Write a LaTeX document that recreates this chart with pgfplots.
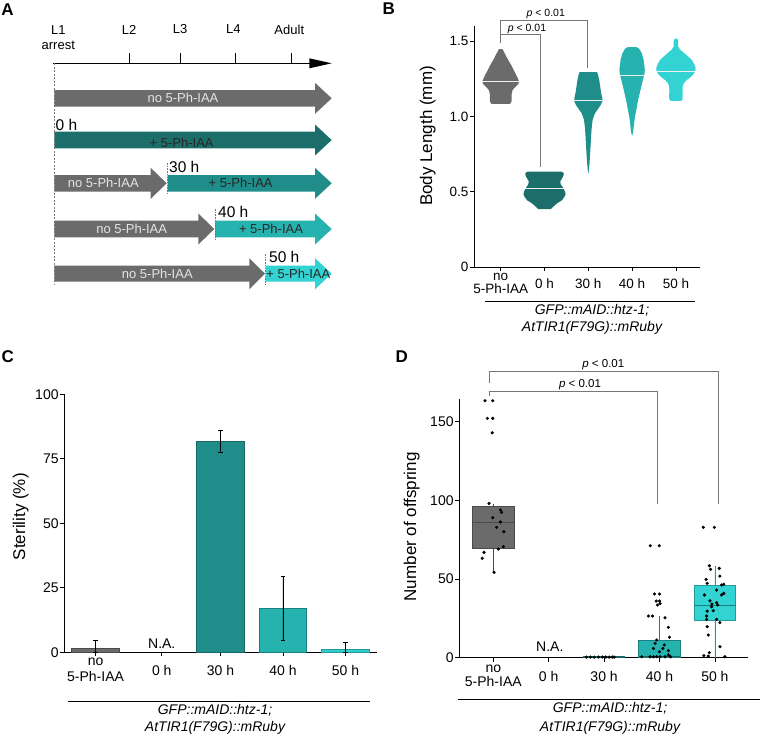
\documentclass[border=0pt]{standalone}
\usepackage{fontspec}
\setmainfont{Liberation Sans}
\usepackage{pgfplots}
\usepackage{pgfplotstable}
\pgfplotsset{compat=1.18}
\usepgfplotslibrary{statistics}

\definecolor{cgray}{HTML}{6B6B6B}
\definecolor{cgrayd}{HTML}{4A4A4A}
\definecolor{c0}{HTML}{1B6E6A}
\definecolor{c30}{HTML}{1F8E8A}
\definecolor{c30d}{HTML}{166663}
\definecolor{c40}{HTML}{26B3B0}
\definecolor{c40d}{HTML}{1B807D}
\definecolor{c50}{HTML}{33D3D3}
\definecolor{c50d}{HTML}{23999A}
\definecolor{brk}{HTML}{777777}

\newcommand{\fsz}[2]{\fontsize{#1pt}{#2pt}\selectfont}

% violin outlines: signed half width (category units), value
% right side top to bottom, then left side bottom to top
\pgfplotstableread{
s v
0.04 1.447
0.09 1.42
0.16 1.38
0.24 1.34
0.31 1.30
0.38 1.26
0.42 1.232
0.40 1.215
0.33 1.195
0.27 1.175
0.25 1.15
0.25 1.11
0.24 1.095
0.21 1.084
-0.21 1.084
-0.24 1.095
-0.25 1.11
-0.25 1.15
-0.27 1.175
-0.33 1.195
-0.40 1.215
-0.42 1.232
-0.38 1.26
-0.31 1.30
-0.24 1.34
-0.16 1.38
-0.09 1.42
-0.04 1.447
}\vno
\pgfplotstableread{
s v
0.38 0.634
0.43 0.628
0.44 0.615
0.41 0.595
0.36 0.57
0.37 0.55
0.43 0.525
0.47 0.50
0.48 0.486
0.46 0.47
0.40 0.445
0.29 0.425
0.19 0.40
0.14 0.385
-0.14 0.385
-0.19 0.40
-0.29 0.425
-0.40 0.445
-0.46 0.47
-0.48 0.486
-0.47 0.50
-0.43 0.525
-0.37 0.55
-0.36 0.57
-0.41 0.595
-0.44 0.615
-0.43 0.628
-0.38 0.634
}\vzero
\pgfplotstableread{
s v
0.20 1.294
0.22 1.28
0.25 1.24
0.27 1.20
0.29 1.16
0.32 1.12
0.32 1.10
0.28 1.075
0.22 1.05
0.15 1.02
0.10 0.98
0.075 0.92
0.06 0.85
0.045 0.77
0.03 0.70
0.005 0.624
-0.005 0.624
-0.03 0.70
-0.045 0.77
-0.06 0.85
-0.075 0.92
-0.10 0.98
-0.15 1.02
-0.22 1.05
-0.28 1.075
-0.32 1.10
-0.32 1.12
-0.29 1.16
-0.27 1.20
-0.25 1.24
-0.22 1.28
-0.20 1.294
}\vthirty
\pgfplotstableread{
s v
0.10 1.46
0.16 1.45
0.22 1.42
0.26 1.38
0.28 1.34
0.29 1.31
0.28 1.28
0.245 1.24
0.21 1.20
0.17 1.15
0.13 1.10
0.10 1.05
0.065 1.0
0.045 0.95
0.025 0.90
0.003 0.873
-0.003 0.873
-0.025 0.90
-0.045 0.95
-0.065 1.0
-0.10 1.05
-0.13 1.10
-0.17 1.15
-0.21 1.20
-0.245 1.24
-0.28 1.28
-0.29 1.31
-0.28 1.34
-0.26 1.38
-0.22 1.42
-0.16 1.45
-0.10 1.46
}\vforty
\pgfplotstableread{
s v
0.03 1.517
0.05 1.50
0.05 1.465
0.09 1.445
0.15 1.43
0.27 1.40
0.36 1.376
0.42 1.345
0.45 1.32
0.44 1.30
0.40 1.28
0.33 1.26
0.24 1.24
0.18 1.22
0.155 1.20
0.15 1.17
0.155 1.13
0.15 1.115
0.12 1.103
-0.12 1.103
-0.15 1.115
-0.155 1.13
-0.15 1.17
-0.155 1.20
-0.18 1.22
-0.24 1.24
-0.33 1.26
-0.40 1.28
-0.44 1.30
-0.45 1.32
-0.42 1.345
-0.36 1.376
-0.27 1.40
-0.15 1.43
-0.09 1.445
-0.05 1.465
-0.05 1.50
-0.03 1.517
}\vfifty

\pgfplotsset{
  panel/.style={
    scale only axis, axis lines=left,
    axis line style={-, line width=0.9pt, black},
    tick align=outside, major tick length=4pt,
    tick style={line width=0.8pt, black},
    clip=false,
    /pgf/number format/assume math mode=true,
    ticklabel style={font=\fsz{14}{16}},
    yticklabel style={inner sep=1.5pt},
    xticklabel style={align=center, anchor=center},
    ylabel style={font=\fsz{17}{20}, anchor=center},
  }
}

\begin{document}
\begin{tikzpicture}

% ---------- canvas in pixel units (panel A and annotations)
\begin{axis}[at={(0pt,-736pt)}, anchor=south west, scale only axis,
  width=760pt, height=736pt, xmin=0, xmax=760, ymin=0, ymax=736,
  y dir=reverse, hide axis, clip=false]
% panel letters
\node[font=\fsz{17}{20}\bfseries] at (7.5,9.2) {A};
\node[font=\fsz{17}{20}\bfseries] at (388.8,8.3) {B};
\node[font=\fsz{17}{20}\bfseries] at (7.8,357) {C};
\node[font=\fsz{17}{20}\bfseries] at (401.7,357) {D};
% timeline
\draw[line width=1.2pt] (53.3,63.3) -- (312,63.3);
\addplot[fill=black, draw=none] coordinates {(309.3,58.3)(331.7,63.3)(309.3,68.3)};
\draw[line width=1pt] (129,53.3) -- (129,63.3);
\draw[line width=1pt] (180,53.3) -- (180,63.3);
\draw[line width=1pt] (235,53.3) -- (235,63.3);
\draw[line width=1pt] (291.7,53.3) -- (291.7,63.3);
\node[font=\fsz{13}{15}] at (58.3,30) {L1};
\node[font=\fsz{13}{15}] at (58.3,45) {arrest};
\node[font=\fsz{13}{15}] at (129,30) {L2};
\node[font=\fsz{13}{15}] at (180,29.3) {L3};
\node[font=\fsz{13}{15}] at (233.3,29.3) {L4};
\node[font=\fsz{13}{15}] at (289.3,30) {Adult};
% arrows
\addplot[fill=cgray, draw=none] coordinates {(54.3,90)(315,90)(315,82.8)(331.7,98.3)(315,113.8)(315,106.6)(54.3,106.6)};
\addplot[fill=c0, draw=none] coordinates {(54.3,131.7)(315,131.7)(315,124.5)(331.7,140)(315,155.5)(315,148.3)(54.3,148.3)};
\addplot[fill=cgray, draw=none] coordinates {(54.3,175)(150.7,175)(150.7,167.8)(166.7,183.3)(150.7,198.8)(150.7,191.6)(54.3,191.6)};
\addplot[fill=c30, draw=none] coordinates {(167.7,175)(315,175)(315,167.8)(331.7,183.3)(315,198.8)(315,191.6)(167.7,191.6)};
\addplot[fill=cgray, draw=none] coordinates {(54.3,220.7)(198.3,220.7)(198.3,213.5)(214.3,229)(198.3,244.5)(198.3,237.3)(54.3,237.3)};
\addplot[fill=c40, draw=none] coordinates {(215,220.7)(315,220.7)(315,213.5)(331.7,229)(315,244.5)(315,237.3)(215,237.3)};
\addplot[fill=cgray, draw=none] coordinates {(54.3,265.7)(249.3,265.7)(249.3,258.2)(265,273.7)(249.3,289.2)(249.3,281.7)(54.3,281.7)};
\addplot[fill=c50, draw=none] coordinates {(265.7,265.7)(315,265.7)(315,258.2)(331.7,273.7)(315,289.2)(315,281.7)(265.7,281.7)};
\draw[brk, line width=0.7pt, dash pattern=on 2pt off 1.5pt] (54.3,63.3) -- (54.3,285);
\draw[brk, line width=0.7pt, dash pattern=on 1.5pt off 1.2pt] (167.7,163) -- (167.7,193);
\draw[brk, line width=0.7pt, dash pattern=on 1.5pt off 1.2pt] (215,209) -- (215,239);
\draw[brk, line width=0.7pt, dash pattern=on 1.5pt off 1.2pt] (265.7,254) -- (265.7,284);
\node[font=\fsz{13}{15}, text=white!90!black] at (183,98.3) {no 5-Ph-IAA};
\node[font=\fsz{15.5}{17}, anchor=west, inner sep=0pt] at (55.5,125) {0 h};
\node[font=\fsz{13}{15}, text=black!85] at (181.7,142.7) {+ 5-Ph-IAA};
\node[font=\fsz{15.5}{17}, anchor=west, inner sep=0pt] at (169,166.7) {30 h};
\node[font=\fsz{13}{15}, text=white!90!black] at (103.3,183.3) {no 5-Ph-IAA};
\node[font=\fsz{13}{15}, text=black!85] at (240.7,183.3) {+ 5-Ph-IAA};
\node[font=\fsz{15.5}{17}, anchor=west, inner sep=0pt] at (218,212.3) {40 h};
\node[font=\fsz{13}{15}, text=white!90!black] at (131.7,229.3) {no 5-Ph-IAA};
\node[font=\fsz{13}{15}, text=black!85] at (271,229.3) {+ 5-Ph-IAA};
\node[font=\fsz{15.5}{17}, anchor=west, inner sep=0pt] at (269,256.7) {50 h};
\node[font=\fsz{13}{15}, text=white!90!black] at (157.3,274.3) {no 5-Ph-IAA};
\node[font=\fsz{13}{15}, text=black!85] at (298.3,274.3) {+ 5-Ph-IAA};
% strain labels
\draw[line width=0.8pt] (485,301.7) -- (695,301.7);
\node[font=\fsz{14}{16}\itshape] at (592,310.5) {GFP::mAID::htz-1;};
\node[font=\fsz{14}{16}\itshape] at (592,328.3) {AtTIR1(F79G)::mRuby};
\draw[line width=0.8pt] (68.3,701) -- (370,701);
\node[font=\fsz{14}{16}\itshape] at (215,710.7) {GFP::mAID::htz-1;};
\node[font=\fsz{14}{16}\itshape] at (215,728.3) {AtTIR1(F79G)::mRuby};
\draw[line width=0.8pt] (458,699) -- (760,699);
\node[font=\fsz{14}{16}\itshape] at (610,708.3) {GFP::mAID::htz-1;};
\node[font=\fsz{14}{16}\itshape] at (610,728.3) {AtTIR1(F79G)::mRuby};
% p-values
\node[font=\fsz{10.5}{12}] at (545.8,14) {\textit{p} < 0.01};
\node[font=\fsz{10.5}{12}] at (527,29.3) {\textit{p} < 0.01};
\node[font=\fsz{11.5}{13}] at (603.3,365) {\textit{p} < 0.01};
\node[font=\fsz{11.5}{13}] at (580,384.3) {\textit{p} < 0.01};
\end{axis}

% ---------- B: body length violins
\begin{axis}[panel, at={(474pt,-267.3pt)}, anchor=south west,
  width=226pt, height=241.3pt, xmin=-0.61, xmax=4.55, ymin=0, ymax=1.6,
  xtick={0,1,2,3,4}, xticklabels={{no\\5-Ph-IAA},0 h,30 h,40 h,50 h},
  ytick={0,0.5,1,1.5}, yticklabels={0,0.5,1.0,1.5},
  ticklabel style={font=\fsz{13.5}{13}},
  xticklabel style={yshift=-12pt},
  ylabel={Body Length (mm)},
  ylabel style={at={(axis description cs:-0.205,0.544)}}]
\addplot[fill=cgray, draw=none] table[x expr=\thisrow{s}, y=v] {\vno} -- cycle;
\addplot[fill=c0, draw=none] table[x expr=1+\thisrow{s}, y=v] {\vzero} -- cycle;
\addplot[fill=c30, draw=none] table[x expr=2+\thisrow{s}, y=v] {\vthirty} -- cycle;
\addplot[fill=c40, draw=none] table[x expr=3+\thisrow{s}, y=v] {\vforty} -- cycle;
\addplot[fill=c50, draw=none] table[x expr=4+\thisrow{s}, y=v] {\vfifty} -- cycle;
% medians
\addplot[white!88!gray, line width=0.8pt] coordinates {(-0.42,1.23)(0.42,1.23)};
\addplot[white!88!gray, line width=0.8pt] coordinates {(0.56,0.52)(1.44,0.52)};
\addplot[white!88!gray, line width=0.8pt] coordinates {(1.68,1.105)(2.32,1.105)};
\addplot[white!88!gray, line width=0.8pt] coordinates {(2.72,1.27)(3.28,1.27)};
\addplot[white!88!gray, line width=0.8pt] coordinates {(3.56,1.298)(4.44,1.298)};
% significance brackets
\addplot[brk, line width=0.8pt] coordinates {(0,1.486)(0,1.636)(1.97,1.636)(1.97,1.32)};
\addplot[brk, line width=0.8pt] coordinates {(0,1.543)(0.914,1.543)(0.914,0.667)};
\end{axis}

% ---------- C: sterility bars
\begin{axis}[panel, at={(64.3pt,-652.3pt)}, anchor=south west,
  width=312.4pt, height=258pt, xmin=-0.5, xmax=4.5, ymin=0, ymax=100,
  xtick={0,1.06,2,3,4}, xticklabels={{no\\5-Ph-IAA},0 h,30 h,40 h,50 h},
  ytick={0,25,50,75,100},
  xticklabel style={yshift=-13.7pt},
  ylabel={Sterility (\%)},
  ylabel style={at={(axis description cs:-0.1396,0.5256)}},
  error bars/error bar style={black, line width=0.8pt},
  error bars/error mark options={rotate=90, black, mark size=2.2pt, line width=0.8pt}]
\addplot[ybar, bar shift=0pt, bar width=0.763, fill=cgray, draw=cgrayd, line width=0.8pt,
  error bars/.cd, y dir=both, y explicit] coordinates {(0,1.6) += (0,2.9) -= (0,1.6)};
\addplot[ybar, bar shift=0pt, bar width=0.763, fill=c30, draw=c30d, line width=0.8pt,
  error bars/.cd, y dir=both, y explicit] coordinates {(2,81.7) += (0,4.2) -= (0,4.3)};
\addplot[ybar, bar shift=0pt, bar width=0.763, fill=c40, draw=c40d, line width=0.8pt,
  error bars/.cd, y dir=both, y explicit] coordinates {(3,17.1) += (0,12.2) -= (0,12.5)};
\addplot[ybar, bar shift=0pt, bar width=0.763, fill=c50!85!c40, draw=c50d, line width=0.8pt,
  error bars/.cd, y dir=both, y explicit] coordinates {(4,1.2) += (0,2.5) -= (0,1.2)};
\node[font=\fsz{14}{16}] at (axis cs:1.06,3.5) {N.A.};
\end{axis}

% ---------- D: offspring boxplots
\begin{axis}[panel, at={(459.3pt,-657.7pt)}, anchor=south west,
  width=288.4pt, height=258.7pt, xmin=-0.614, xmax=4.592, ymin=0, ymax=164.5,
  xtick={0,1,2,3,4}, xticklabels={{no\\5-Ph-IAA},0 h,30 h,40 h,50 h},
  ytick={0,50,100,150},
  ticklabel style={font=\fsz{14}{14.5}},
  xticklabel style={yshift=-14.3pt},
  ylabel={Number of offspring},
  ylabel style={at={(axis description cs:-0.165,0.506)}},
  boxplot/draw direction=y]
\addplot[boxplot prepared={median=86, upper quartile=96, lower quartile=69.5,
  upper whisker=98, lower whisker=54.5, draw position=0, box extend=0.75, whisker extend=0},
  fill=cgray, draw=cgrayd, line width=0.8pt, solid,
  boxplot/every median/.style={draw=black!70, line width=0.9pt}] coordinates {};
\addplot[boxplot prepared={median=0.3, upper quartile=0.8, lower quartile=0,
  upper whisker=0.8, lower whisker=0, draw position=2, box extend=0.75, whisker extend=0},
  fill=c30, draw=c30d, line width=0.8pt, solid] coordinates {};
\addplot[boxplot prepared={median=1, upper quartile=11, lower quartile=0,
  upper whisker=26.5, lower whisker=0, draw position=3, box extend=0.75, whisker extend=0},
  fill=c40, draw=c40d, line width=0.8pt, solid,
  boxplot/every median/.style={draw=c30d, line width=0.9pt}] coordinates {};
\addplot[boxplot prepared={median=33, upper quartile=46, lower quartile=23.5,
  upper whisker=58, lower whisker=0, draw position=4, box extend=0.75, whisker extend=0},
  fill=c50, draw=c50d, line width=0.8pt, solid,
  boxplot/every median/.style={draw=c40d, line width=0.9pt}] coordinates {};
% individual animals
\addplot[only marks, mark=*, mark size=1.4pt, black] coordinates {
  (-0.15,163.4) (-0.01,163.4) (-0.108,152.2) (-0.01,152.2) (-0.02,143.0)
  (-0.077,98.1) (0.13,93.9) (0.15,92.4) (-0.01,89.0) (0.127,86.3) (0.06,82.9)
  (0.19,80.1) (0.18,70.6) (0.09,69.1) (-0.168,67.0) (-0.2,63.2) (0.013,54.3)
  (1.68,0.4) (1.75,0.4) (1.82,0.4) (1.9,0.4) (1.97,0.4) (2.03,0.4) (2.09,0.4) (2.15,0.4) (2.18,0.4)
  (2.832,71.2) (2.995,71.2) (2.91,40.5) (3.0,40.5) (2.94,36.0) (3.0,36.0) (2.964,33.5)
  (3.01,34.4) (2.8,26.5) (2.874,26.5) (3.1,25.4) (3.16,19.3) (3.18,13.0) (2.95,11.3)
  (2.92,9.1) (3.085,8.1) (2.89,5.9) (3.06,5.9) (3.16,4.5) (3.0,3.8) (3.16,1.7)
  (2.68,0.6) (2.83,0.6) (2.89,0.6) (2.95,0.6) (3.01,0.6) (3.1,0.6) (3.2,0.6)
  (3.79,82.9) (3.99,82.9) (3.9,58.5) (3.922,56.2) (4.078,56.8) (4.09,51.9) (3.84,49.8)
  (3.86,47.3) (4.16,46.7) (4.12,46.2) (4.03,43.0) (3.81,39.9) (4.16,40.9) (4.12,39.9)
  (3.91,36.2) (3.946,34.1) (3.94,32.4) (3.97,29.9) (3.86,29.6) (3.85,26.5) (3.85,24.4)
  (4.03,24.4) (4.09,22.3) (3.86,19.7) (3.88,14.4) (4.09,7.0) (3.9,3.2) (3.8,1.3)
  (3.88,1.0) (4.18,0.6) (4.03,35.0) (4.05,33.5)
};
\node[font=\fsz{14}{16}] at (axis cs:1.02,7) {N.A.};
% significance brackets
\addplot[brk, line width=0.8pt] coordinates {(-0.078,174.4)(-0.078,182.3)(4.06,182.3)(4.06,97.7)};
\addplot[brk, line width=0.8pt] coordinates {(-0.078,166.4)(-0.078,169.5)(2.96,169.5)(2.96,97.7)};
\end{axis}

\pgfresetboundingbox
\path[use as bounding box] (0pt,0pt) rectangle (760pt,-736pt);
\end{tikzpicture}
\end{document}
